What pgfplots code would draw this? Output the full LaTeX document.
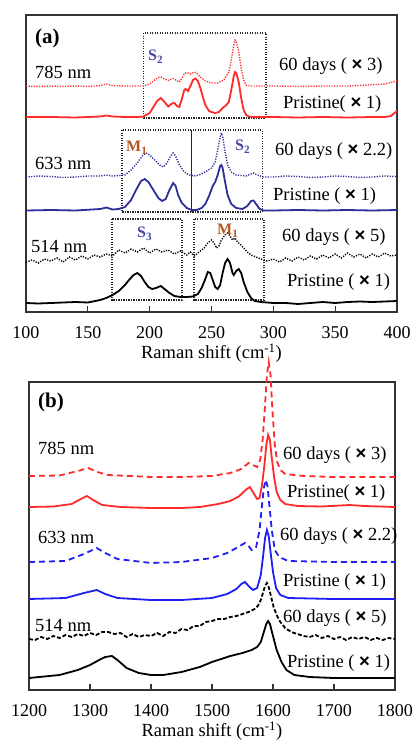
\documentclass[border=0pt]{standalone}
\usepackage{fontspec}
\setmainfont{Liberation Serif}
\newfontfamily\symf{Liberation Sans}
\usepackage{pgfplots}
\pgfplotsset{compat=1.18}
\definecolor{myred}{HTML}{FF2A2A}
\definecolor{navy}{HTML}{2E2E9A}
\definecolor{myblue}{HTML}{1E1EF5}
\definecolor{slab}{HTML}{4646A8}
\definecolor{mlab}{HTML}{B4561E}
\newcommand{\X}{{\symf\bfseries ×}}
\newcommand{\fs}{\fontsize{18.5}{20}\selectfont}
\pgfplotsset{
  panel/.style={scale only axis, anchor=center, y dir=reverse, clip=false,
    axis line style={black!80, line width=1.5pt},
    tick align=inside, xtick pos=bottom, ytick=\empty,
    major tick length=6pt, tick style={black!80, line width=1.2pt},
    /pgf/number format/assume math mode=true,
    /pgf/number format/1000 sep={},
    tick label style={font=\fontsize{18}{20}\selectfont},
    xticklabel style={yshift=-11pt},
    label style={font=\fs},
    xlabel style={yshift=1.5pt},
    xlabel={Raman shift (cm\textsuperscript{-1})}},
}
\tikzset{
  dots/.style={line width=1.4pt, dash pattern=on 1.2pt off 1.4pt},
  sol/.style={line width=1.8pt},
  box/.style={black!85, line width=1.4pt, dash pattern=on 1.2pt off 1.3pt},
}
\begin{document}
\begin{tikzpicture}
\useasboundingbox (0pt,0pt) rectangle (416pt,740pt);
% ---------------- panel (a)
\begin{axis}[panel, at={(211.5pt,576.5pt)}, width=371pt, height=297pt,
  xmin=100, xmax=400, ymin=15, ymax=312, xtick={100,150,...,400}]
% boxes
\draw[box] (axis cs:195,33) rectangle (axis cs:294,118);
\draw[box] (axis cs:177.6,130) rectangle (axis cs:291,212);
\draw[black!85, line width=1.2pt] (axis cs:234,130) -- (axis cs:234,212);
\draw[box] (axis cs:169.5,219) rectangle (axis cs:226,300);
\draw[box] (axis cs:235.8,219) rectangle (axis cs:292.4,300);
% 785 pristine
\addplot[sol, myred] coordinates {(100,117)(120,117)(140,117.5)(160,116.5)(165,115.5)(170,116.5)(180,117)(190,117)(195,116.5)(200,113)(203,107)(206,101)(209,98)(212,102)(215,106.5)(218,103.5)(220,103)(222,106)(224,107)(226,99)(228,90)(229,89)(231,91)(233,86)(235,80)(237,78.5)(239,81)(241,88)(243,97)(245,105)(248,111)(250,112)(253,113)(256,112)(259,108)(262,105)(264,102)(266,90)(268,76)(269,72)(270,73)(272,82)(274,98)(276,110)(278,115)(280,116.5)(285,117)(300,117)(320,117.5)(340,117)(360,117.5)(380,117)(390,117)(395,116)(398,113)(400,111)};
% 785 60 days
\addplot[dots, myred] coordinates {(100,86)(110,86.5)(120,86)(130,86.5)(140,86)(150,86.5)(160,85.5)(165,84)(170,85.5)(180,86)(195,86)(200,84)(204,80)(207,77.5)(209,77)(212,79)(215,80.5)(217,79.5)(219,78.5)(222,80.5)(224,82)(226,78)(228,74)(230,72.5)(233,74)(236,72)(238,73)(241,77)(245,81)(250,83)(255,83)(260,80)(264,72)(266,60)(268,45)(269,40)(270,41)(272,52)(274,68)(276,80)(278,85)(282,86)(300,86)(320,86.5)(340,86)(360,86)(370,85.5)(390,84)(400,81)};
% 633 pristine
\addplot[sol, navy] coordinates {(100,210.5)(120,210)(140,210.5)(160,209)(165,207.5)(170,209.5)(175,209)(180,207)(185,200)(189,190)(193,181)(196,179)(199,182)(203,190)(207,198)(210,201)(213,199)(216,190)(219,183)(221,186)(223,195)(226,203)(230,208)(234,210)(238,210)(242,208)(245,204)(248,196)(251,186)(253,182)(255,175)(257,166)(258,165)(259,168)(261,182)(263,195)(266,204)(270,208)(275,209)(279,206)(282,201)(284,200.5)(286,204)(289,209)(292,210.5)(300,210.5)(320,210)(340,210.5)(360,210)(380,210.5)(400,210)};
% 633 60 days
\addplot[dots, navy] coordinates {(100,177)(110,176)(120,176.5)(130,177.5)(140,177)(150,176)(160,176)(165,175)(170,176)(180,175)(185,170)(190,163)(194,156)(197,153)(200,155)(204,160)(208,165)(211,167)(214,163)(217,156)(219,153)(221,156)(224,165)(228,172)(232,175)(236,176)(240,175)(245,172)(250,168)(253,162)(255,150)(257,137)(258,133)(259,136)(261,152)(263,165)(266,172)(270,175)(278,176)(282,174)(284,173)(287,175)(292,177)(300,177)(310,176)(320,176.5)(330,177.5)(340,177)(350,176)(360,176.5)(370,177.5)(380,177)(390,176)(400,176.5)};
% 514 pristine
\addplot[sol, black] coordinates {(100,303)(110,303.5)(120,303)(130,302.5)(140,302)(150,302.5)(160,300)(165,298)(170,295)(175,291)(180,285)(184,279)(187,275)(190,273)(193,276)(196,282)(199,287)(202,289)(205,288)(209,286)(212,289)(216,293)(220,296)(225,297)(230,297)(235,296.5)(239,294)(242,288)(245,279)(247,272)(249,273)(251,280)(253,287)(255,289)(257,285)(259,273)(261,263)(263,259)(265,263)(267,273)(268,275)(270,271)(272,269)(274,273)(276,282)(279,292)(282,298)(285,301)(290,302)(300,303)(310,303)(320,304)(330,303)(340,302)(350,303)(360,302)(370,301.5)(380,302)(390,301.5)(400,301)};
% 514 60 days
\addplot[dots, black] coordinates {(100,262)(105,260)(110,263)(115,259)(120,261)(125,258)(130,262)(135,257)(140,260)(145,256)(150,259)(155,255)(160,257)(165,254)(170,256)(175,250)(180,253)(185,249)(190,252)(195,248)(200,253)(205,249)(210,252)(215,250)(220,254)(225,251)(230,255)(233,252)(236,256)(240,252)(244,248)(247,243)(250,240)(252,243)(254,248)(256,246)(258,240)(261,235)(263,233)(265,236)(267,240)(269,238)(271,242)(273,244)(276,248)(279,252)(282,255)(286,257)(290,259)(295,261)(300,259)(305,262)(310,258)(315,261)(320,257)(325,260)(330,256)(335,259)(340,255)(345,258)(350,254)(355,258)(360,253)(365,257)(370,254)(375,258)(380,254)(385,257)(390,253)(395,256)(400,255)};
\end{axis}
% ---------------- panel (b)
\begin{axis}[panel, at={(212pt,204pt)}, width=366pt, height=308pt,
  xmin=1200, xmax=1800, ymin=382, ymax=690, xtick={1200,1300,...,1800}]
\addplot[sol, myred] coordinates {(1200,507)(1240,506.5)(1270,504)(1285,499)(1295,496)(1305,500)(1320,505)(1350,507)(1400,508)(1450,508)(1480,507)(1510,504)(1530,501)(1545,496)(1555,490)(1562,487)(1568,493)(1574,499)(1578,498)(1582,485)(1586,465)(1589,445)(1592,435)(1595,440)(1598,458)(1602,478)(1606,492)(1612,500)(1620,504)(1640,506)(1680,506.5)(1710,505.5)(1726,505)(1750,506)(1800,507)};
\addplot[sol, myred, dash pattern=on 6pt off 4pt] coordinates {(1200,476)(1250,475.5)(1280,471)(1297,468)(1312,472)(1330,475)(1400,477)(1450,477)(1500,476)(1530,473)(1548,469)(1560,463)(1567,465)(1574,467)(1579,460)(1583,440)(1587,405)(1590,375)(1593,362)(1596,375)(1599,410)(1603,445)(1607,462)(1612,470)(1620,474)(1650,476)(1700,477)(1750,477)(1800,477)};
\addplot[sol, myblue] coordinates {(1200,599)(1260,598)(1290,593)(1311,590)(1325,594)(1345,598)(1400,600)(1450,600)(1500,598)(1525,594)(1540,589)(1548,584)(1554,582)(1560,586)(1567,590)(1574,588)(1580,575)(1584,555)(1587,538)(1590,530)(1593,536)(1596,552)(1600,572)(1605,588)(1612,595)(1625,598)(1700,599)(1800,599)};
\addplot[sol, myblue, dash pattern=on 6pt off 4pt] coordinates {(1200,562)(1260,561)(1290,554)(1311,548)(1325,553)(1345,559)(1400,563)(1450,562)(1500,558)(1525,553)(1540,548)(1554,543)(1560,546)(1565,550)(1572,548)(1578,530)(1582,505)(1585,488)(1588,480)(1591,486)(1594,505)(1598,530)(1603,550)(1610,557)(1625,561)(1700,562)(1800,562)};
\addplot[sol, black] coordinates {(1200,678)(1250,675)(1280,670)(1300,665)(1315,660)(1325,657)(1336,656)(1345,660)(1360,668)(1380,673)(1400,675)(1420,675)(1450,672)(1480,667)(1500,662)(1530,656)(1550,653)(1565,650)(1574,647)(1580,642)(1585,632)(1589,624)(1592,621)(1595,624)(1600,636)(1606,650)(1614,662)(1622,670)(1635,675)(1660,677)(1700,678)(1750,678)(1800,678)};
\addplot[sol, black, dash pattern=on 4pt off 2pt] coordinates {(1200,639)(1210,640)(1220,637)(1230,639)(1240,636)(1250,638)(1260,635)(1270,637)(1280,634)(1290,636)(1300,633)(1310,635)(1320,632)(1330,632)(1340,634)(1350,633)(1360,637)(1370,634)(1380,637)(1390,635)(1400,636)(1410,633)(1420,636)(1430,632)(1440,633)(1450,629)(1460,630)(1470,626)(1480,626)(1490,622)(1500,621)(1510,619)(1520,619)(1530,617)(1540,616)(1550,614)(1560,612)(1570,609)(1575,606)(1580,600)(1584,592)(1587,586)(1590,583)(1593,587)(1597,597)(1601,607)(1606,615)(1612,622)(1620,628)(1630,632)(1640,634)(1650,636)(1660,637)(1670,635)(1680,638)(1690,636)(1700,639)(1710,637)(1720,640)(1730,637)(1740,639)(1750,637)(1760,640)(1770,638)(1780,640)(1790,638)(1800,639)};
\end{axis}
% ---------------- labels
\begin{scope}[x=1pt, y=1pt, every node/.style={anchor=west, inner sep=0pt, font=\fs}]
\node[font=\fontsize{21}{23}\selectfont\bfseries] at (35,702) {(a)};
\node at (35,668) {785 nm};
\node[text=slab, font=\fontsize{16}{18}\selectfont\bfseries] at (148,683) {S\textsubscript{2}};
\node at (279,674) {60 days ( \X\ 3)};
\node at (283,636) {Pristine( \X\ 1)};
\node[text=mlab, font=\fontsize{16}{18}\selectfont\bfseries] at (126,592) {M\textsubscript{1}};
\node[text=slab, font=\fontsize{16}{18}\selectfont\bfseries] at (235,593) {S\textsubscript{2}};
\node at (35,577) {633 nm};
\node at (275,589) {60 days ( \X\ 2.2)};
\node at (273,544) {Pristine ( \X\ 1)};
\node[text=slab, font=\fontsize{16}{18}\selectfont\bfseries] at (137,506) {S\textsubscript{3}};
\node[text=mlab, font=\fontsize{16}{18}\selectfont\bfseries] at (217,509) {M\textsubscript{1}};
\node at (31,494) {514 nm};
\node at (282,503) {60 days ( \X\ 5)};
\node at (287,458) {Pristine ( \X\ 1)};
%
\node[font=\fontsize{21}{23}\selectfont\bfseries] at (38,338) {(b)};
\node at (38,292) {785 nm};
\node at (283,285) {60 days ( \X\ 3)};
\node at (287,247) {Pristine( \X\ 1)};
\node at (38,203) {633 nm};
\node at (280,204) {60 days ( \X\ 2.2)};
\node at (283,158) {Pristine ( \X\ 1)};
\node at (35,115) {514 nm};
\node at (283,122) {60 days ( \X\ 5)};
\node at (287,77) {Pristine ( \X\ 1)};
\end{scope}
\end{tikzpicture}
\end{document}
